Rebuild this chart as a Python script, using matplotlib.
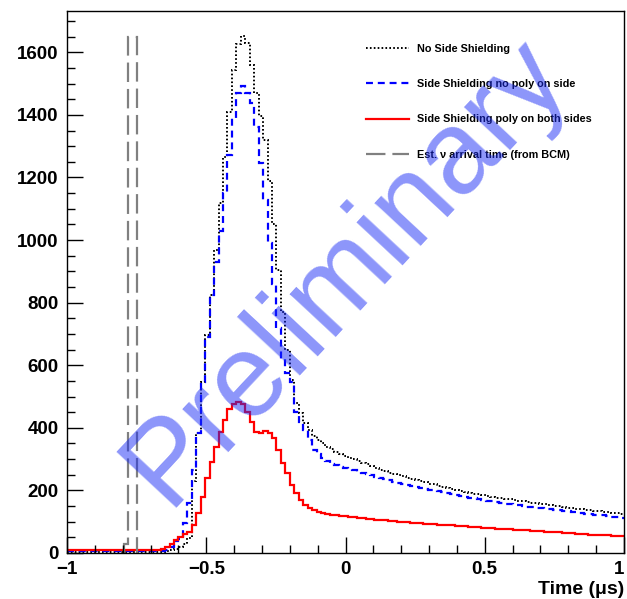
import numpy as np
import matplotlib
matplotlib.use('Agg')
import matplotlib.pyplot as plt
from matplotlib.ticker import MultipleLocator

plt.rcParams['font.family'] = ['Liberation Sans', 'DejaVu Sans']
plt.rcParams['lines.scale_dashes'] = False

# binning: 125 bins of 16 ns between -1 and 1 us
t_min = -1.0
bin_width = 0.016

# counts per bin, no side shielding
no_side = [
    3, 3, 3, 3, 3, 3, 3, 3, 3, 3, 3, 3, 3, 3, 3, 3, 3, 3, 3, 3,
    3, 4, 6, 9, 14, 20, 30, 48, 230, 383, 546, 696, 824, 968, 1118, 1266, 1410, 1543, 1628, 1652,
    1630, 1560, 1470, 1395, 1320, 1190, 1050, 905, 770, 650, 553, 480, 447, 415, 393, 375, 361, 350, 340, 331,
    323, 316, 310, 305, 299, 294, 288, 283, 277, 271, 266, 262, 257, 253, 249, 245, 241, 237, 233, 229,
    226, 222, 219, 215, 212, 208, 205, 202, 199, 196, 193, 190, 187, 184, 182, 180, 177, 175, 173, 171,
    169, 167, 165, 163, 161, 159, 157, 155, 153, 151, 149, 147, 145, 143, 142, 140, 138, 136, 135, 133,
    131, 130, 128, 127, 125,
]

# side shielding, no poly on side
no_poly = [
    5, 5, 5, 5, 5, 5, 5, 5, 5, 5, 5, 5, 5, 5, 5, 5, 5, 5, 5, 5,
    5, 6, 10, 18, 38, 45, 95, 160, 265, 383, 546, 690, 824, 930, 1030, 1150, 1272, 1390, 1470, 1492,
    1470, 1438, 1362, 1246, 1128, 990, 860, 720, 620, 575, 545, 450, 420, 393, 360, 330, 315, 302, 293, 286,
    280, 276, 272, 268, 264, 260, 256, 252, 248, 244, 240, 236, 232, 228, 225, 221, 218, 214, 211, 208,
    205, 202, 200, 197, 195, 192, 189, 186, 183, 180, 177, 175, 172, 169, 167, 165, 163, 161, 158, 156,
    154, 152, 150, 148, 147, 145, 144, 142, 140, 138, 137, 135, 133, 131, 130, 128, 126, 125, 123, 121,
    120, 118, 116, 115, 113,
]

# side shielding, poly on both sides
poly_both = [
    10, 10, 10, 10, 10, 10, 10, 10, 10, 10, 10, 10, 10, 10, 10, 10, 10, 10, 10, 10,
    11, 13, 18, 30, 42, 52, 60, 68, 88, 128, 178, 240, 292, 339, 387, 425, 460, 476, 482, 476,
    451, 419, 387, 383, 391, 384, 367, 329, 288, 256, 217, 192, 169, 153, 144, 136, 131, 128, 125, 123,
    121, 119, 117, 115, 114, 112, 111, 109, 108, 106, 105, 104, 103, 102, 100, 99, 98, 97, 96, 95,
    94, 93, 92, 91, 90, 89, 88, 87, 86, 85, 84, 83, 82, 81, 80, 79, 78, 77, 77, 76,
    75, 74, 73, 72, 71, 70, 69, 68, 68, 67, 66, 65, 64, 63, 62, 61, 60, 59, 59, 58,
    57, 56, 55, 54, 53,
]

# estimated neutrino arrival (BCM), drawn as a scaled marker histogram
bcm_start = -0.796
bcm_counts = [30, 1650, 1650]

labels = [
    'No Side Shielding',
    'Side Shielding no poly on side',
    'Side Shielding poly on both sides',
    'Est. \u03bd arrival time (from BCM)',
]

edges = t_min + bin_width * np.arange(len(no_side) + 1)
bcm_edges = bcm_start + bin_width * np.arange(len(bcm_counts) + 1)

fig = plt.figure(figsize=(6.27, 5.99), dpi=100)
ax = fig.add_axes([0.1069, 0.0768, 0.8883, 0.9048])

ax.stairs(no_side, edges, baseline=None, color='black', lw=1.4,
          linestyle=(0, (1.2, 1.6)), label=labels[0])
ax.stairs(no_poly, edges, baseline=None, color='#0000ff', lw=1.6,
          linestyle=(0, (5, 3.5)), label=labels[1])
ax.stairs(poly_both, edges, baseline=None, color='#ff0000', lw=1.6,
          label=labels[2])
ax.stairs(bcm_counts, bcm_edges, baseline=0, color='#808080', lw=1.6,
          linestyle=(0, (14, 5)), label=labels[3])

ax.set_xlim(-1, 1)
ax.set_ylim(0, 1732)

ax.xaxis.set_major_locator(MultipleLocator(0.5))
ax.xaxis.set_minor_locator(MultipleLocator(0.1))
ax.yaxis.set_major_locator(MultipleLocator(200))
ax.yaxis.set_minor_locator(MultipleLocator(50))
ax.xaxis.set_major_formatter(plt.FuncFormatter(lambda v, p: f'{v:g}'.replace('-', '\u2212')))

ax.tick_params(which='both', direction='in', top=False, right=False, width=1)
ax.tick_params(which='major', length=11.5, labelsize=13.5)
ax.tick_params(which='minor', length=6)
ax.tick_params(axis='x', which='major', pad=6)
ax.tick_params(axis='y', which='major', pad=6)
for sp in ax.spines.values():
    sp.set_linewidth(1)

ax.set_xlabel('Time (\u03bcs)', fontsize=14, fontweight='bold', loc='right', labelpad=2)

leg = ax.legend(loc='upper left', bbox_to_anchor=(0.536, 0.940), frameon=False,
                prop={'weight': 'bold', 'size': 7.8}, handlelength=4.0,
                handletextpad=0.75, labelspacing=2.35, borderpad=0, borderaxespad=0)

# watermark on top of the histograms
ax.text(0.5, 0.52, 'Preliminary', transform=ax.transAxes, fontsize=85,
        color='#1a2cf5', alpha=0.5, rotation=47, ha='center', va='center',
        rotation_mode='anchor', zorder=10)

fig.canvas.draw()
for lab in ax.get_xticklabels() + ax.get_yticklabels():
    lab.set_fontweight('bold')
# keep the label at the right end inside the canvas
for tick in ax.xaxis.get_major_ticks():
    if abs(tick.get_loc() - 1.0) < 1e-9:
        tick.label1.set_horizontalalignment('right')

fig.savefig('out.png', dpi=100)
